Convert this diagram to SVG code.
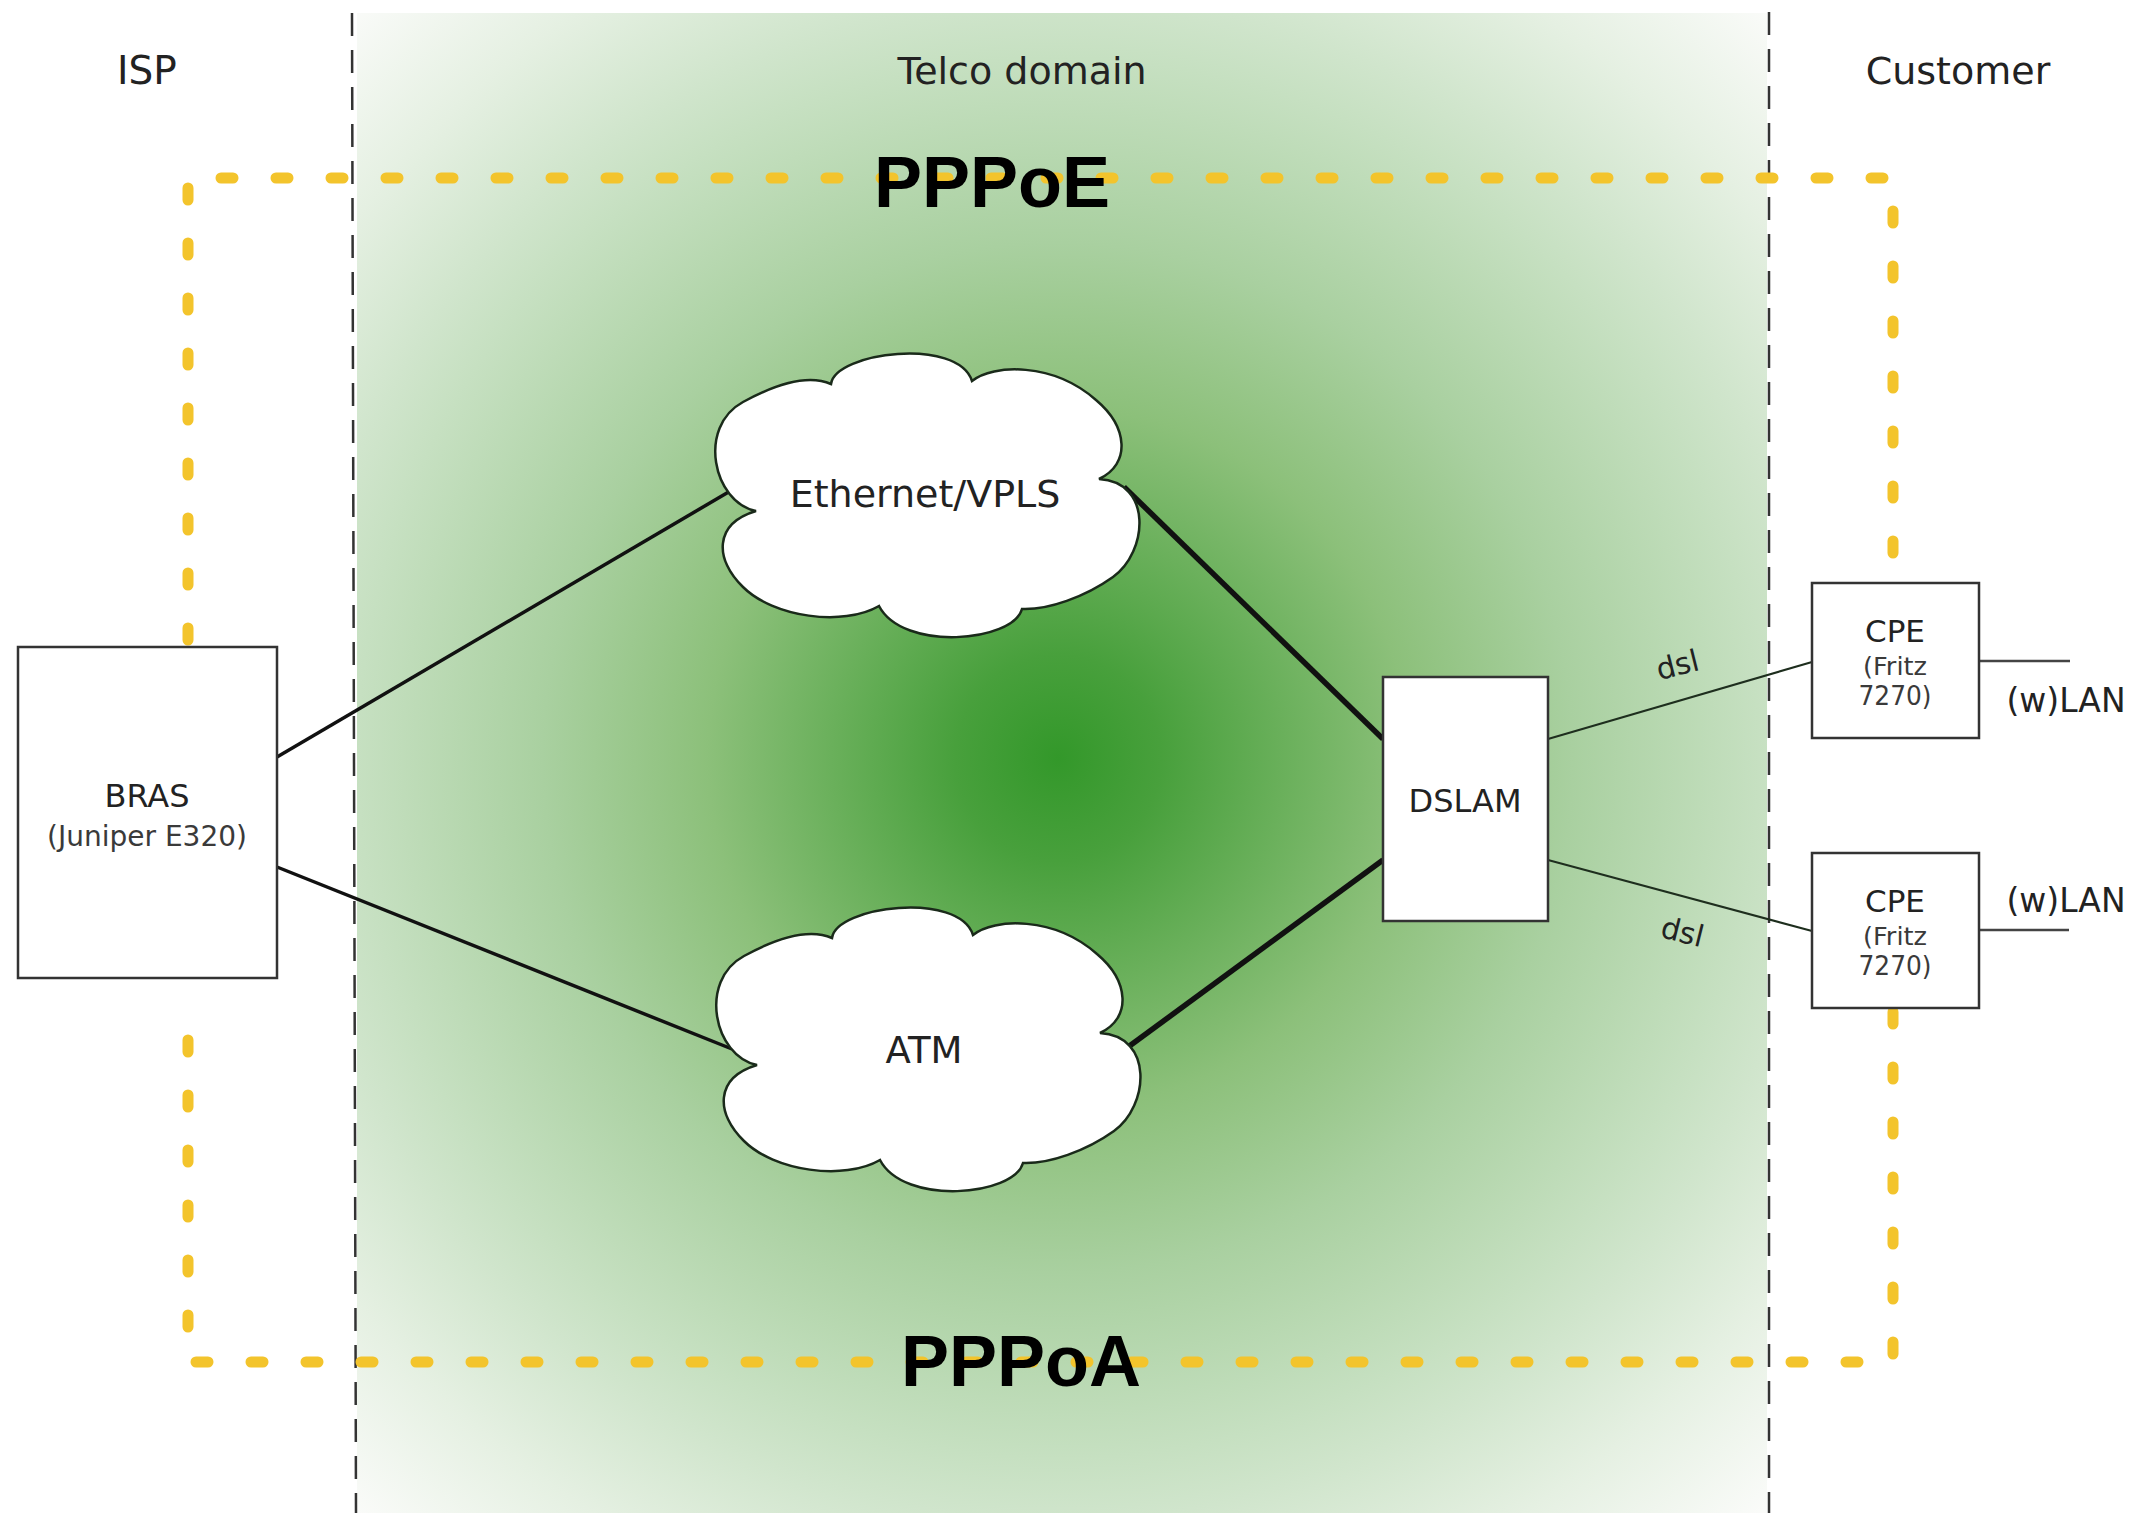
<svg xmlns="http://www.w3.org/2000/svg" xmlns:xlink="http://www.w3.org/1999/xlink" width="2141" height="1513" viewBox="0 0 2141 1513">
<defs>
  <radialGradient id="telco" gradientUnits="userSpaceOnUse" cx="1058" cy="758" r="1030">
    <stop offset="0" stop-color="#33982a"/>
    <stop offset="0.1" stop-color="#48a03c"/>
    <stop offset="0.34" stop-color="#8cc07a"/>
    <stop offset="0.5" stop-color="#a9d0a0"/>
    <stop offset="0.68" stop-color="#c6e0c1"/>
    <stop offset="0.74" stop-color="#d0e5cc"/>
    <stop offset="0.86" stop-color="#e5f0e2"/>
    <stop offset="1" stop-color="#fafbf9"/>
  </radialGradient>
  <path id="cloudShape" d="M 43 159 C 0 150 -16 75 30 50 C 62 32.5 95 22 118 32 C 122 0 245 -15 259 29 C 280 12 340 10 383 48 C 415 75 418 112 386 127 C 440 130 435 200 400 225 C 372 245 335 258 309 257 C 300 290 190 300 166 254 C 130 275 60 265 30 235 C 2 208 0 172 43 159 Z"/>
</defs>
<style>
  .box{fill:#ffffff;stroke:#333333;stroke-width:2.5}
  .cloud{fill:#ffffff;stroke:#1a2a1a;stroke-width:2.5}
  .lbl{font-family:"DejaVu Sans",Verdana,sans-serif;fill:#222222}
  .sub{font-family:"DejaVu Sans",Verdana,sans-serif;fill:#3a3a3a}
  .proto{font-family:"Liberation Sans",Arial,sans-serif;font-weight:bold;font-size:72px;fill:#000000}
  .zone{stroke:#333333;stroke-width:2.5;stroke-dasharray:23 14;fill:none}
  .ppp{fill:none;stroke:#f3c42c;stroke-width:11;stroke-linecap:round;stroke-linejoin:round;stroke-dasharray:12 43}
  .trunk{stroke:#111111;fill:none}
  .thin{stroke:#1e2e1e;stroke-width:2;fill:none}
  .lan{stroke:#444444;stroke-width:2.5;fill:none}
</style>

<rect x="0" y="0" width="2141" height="1513" fill="#ffffff"/>
<rect id="telco-area" x="357" y="13" width="1410" height="1500" fill="url(#telco)"/>

<g id="zones">
  <line class="zone" x1="352" y1="13" x2="356" y2="1513"/>
  <line class="zone" x1="1769" y1="12" x2="1769" y2="1513"/>
  <text class="lbl" x="147" y="84" font-size="39" text-anchor="middle">ISP</text>
  <text class="lbl" x="1022" y="84" font-size="38" text-anchor="middle" fill="#1a2a1a">Telco domain</text>
  <text class="lbl" x="1958" y="84" font-size="38" text-anchor="middle">Customer</text>
</g>

<g id="ppp-sessions">
  <path class="ppp" d="M 188 640 L 188 178 L 1893 178 L 1893 580"/>
  <path class="ppp" d="M 1893 1012 L 1893 1362 L 188 1362 L 188 1012"/>
  <text class="proto" x="992" y="207" text-anchor="middle">PPPoE</text>
  <text class="proto" x="1021" y="1386" text-anchor="middle">PPPoA</text>
</g>

<g id="connectors">
  <line class="trunk" stroke-width="3.5" x1="277" y1="757" x2="732" y2="490"/>
  <line class="trunk" stroke-width="3.5" x1="277" y1="867" x2="732" y2="1049"/>
  <line class="trunk" stroke-width="5.5" x1="1124" y1="487" x2="1383" y2="739"/>
  <line class="trunk" stroke-width="5.5" x1="1124" y1="1050" x2="1383" y2="860"/>
  <line class="thin" x1="1548" y1="739" x2="1812" y2="662"/>
  <line class="thin" x1="1548" y1="860" x2="1812" y2="931"/>
  <line class="lan" x1="1978" y1="661" x2="2070" y2="661"/>
  <line class="lan" x1="1978" y1="930" x2="2069" y2="930"/>
  <text class="lbl" font-size="30" text-anchor="middle" transform="translate(1680,675) rotate(-14)">dsl</text>
  <text class="lbl" font-size="30" text-anchor="middle" transform="translate(1680,942) rotate(14)">dsl</text>
  <text class="lbl" x="2066" y="712" font-size="33" text-anchor="middle">(w)LAN</text>
  <text class="lbl" x="2066" y="912" font-size="33" text-anchor="middle">(w)LAN</text>
</g>

<g id="bras">
  <rect class="box" x="18" y="647" width="259" height="331"/>
  <text class="lbl" x="147" y="807" font-size="32" text-anchor="middle">BRAS</text>
  <text class="sub" x="147" y="846" font-size="28" text-anchor="middle">(Juniper E320)</text>
</g>

<g id="ethernet-vpls">
  <use xlink:href="#cloudShape" href="#cloudShape" class="cloud" transform="translate(713,352)"/>
  <text class="lbl" x="925" y="507" font-size="38" text-anchor="middle">Ethernet/VPLS</text>
</g>

<g id="atm">
  <use xlink:href="#cloudShape" href="#cloudShape" class="cloud" transform="translate(714,906)"/>
  <text class="lbl" x="924" y="1063" font-size="37" text-anchor="middle">ATM</text>
</g>

<g id="dslam">
  <rect class="box" x="1383" y="677" width="165" height="244"/>
  <text class="lbl" x="1465" y="812" font-size="32" text-anchor="middle">DSLAM</text>
</g>

<g id="cpe-1">
  <rect class="box" x="1812" y="583" width="167" height="155"/>
  <text class="lbl" x="1895" y="642" font-size="31" text-anchor="middle">CPE</text>
  <text class="sub" x="1895" y="675" font-size="24" text-anchor="middle" textLength="64" lengthAdjust="spacingAndGlyphs">(Fritz</text>
  <text class="sub" x="1895" y="705" font-size="27" text-anchor="middle" textLength="73" lengthAdjust="spacingAndGlyphs">7270)</text>
</g>

<g id="cpe-2">
  <rect class="box" x="1812" y="853" width="167" height="155"/>
  <text class="lbl" x="1895" y="912" font-size="31" text-anchor="middle">CPE</text>
  <text class="sub" x="1895" y="945" font-size="24" text-anchor="middle" textLength="64" lengthAdjust="spacingAndGlyphs">(Fritz</text>
  <text class="sub" x="1895" y="975" font-size="27" text-anchor="middle" textLength="73" lengthAdjust="spacingAndGlyphs">7270)</text>
</g>
</svg>
